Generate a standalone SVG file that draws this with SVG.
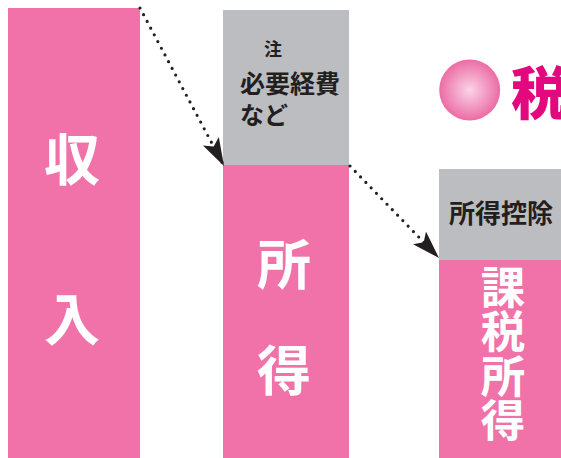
<svg xmlns="http://www.w3.org/2000/svg" width="561" height="458" viewBox="0 0 561 458">
<defs>
<style>
.pink{fill:#f072a9}
.gray{fill:#bcbdc0}
.wt{fill:#ffffff;font-family:"Noto Sans CJK JP","Noto Sans",sans-serif;font-weight:bold;text-anchor:middle;dominant-baseline:central}
.dk{fill:#231f20;font-family:"Noto Sans CJK JP","Noto Sans",sans-serif;font-weight:bold}
.dot{fill:none;stroke:#231f20;stroke-width:3.2;stroke-linecap:round;stroke-dasharray:0 7.6}
</style>
<marker id="ah" markerUnits="userSpaceOnUse" markerWidth="30" markerHeight="20" refX="28" refY="9" orient="auto">
<path d="M0,0 L28,9 L0,18 L6,9 z" fill="#231f20"/>
</marker>
<radialGradient id="rg" cx="0.5" cy="0.5" r="0.5">
<stop offset="0" stop-color="#fad4e6"/>
<stop offset="1" stop-color="#ec6ca5"/>
</radialGradient>
</defs>
<g id="income">
<rect class="pink" x="8" y="8" width="132" height="450"/>
<text class="wt" x="72" y="155" font-size="56">収</text>
<text class="wt" x="72" y="315" font-size="56">入</text>
</g>
<g id="shotoku">
<rect class="gray" x="223" y="10" width="126" height="155"/>
<rect class="pink" x="223" y="165" width="126" height="293"/>
<text class="dk" x="273" y="48" font-size="18" text-anchor="middle" dominant-baseline="central">注</text>
<text class="dk" font-size="25" dominant-baseline="central"><tspan x="240" y="82">必要経費</tspan><tspan x="240" y="113" font-size="24">など</tspan></text>
<text class="wt" x="284" y="261" font-size="54">所</text>
<text class="wt" x="284" y="367" font-size="54">得</text>
</g>
<g id="kazei">
<rect class="gray" x="439" y="169" width="122" height="91"/>
<rect class="pink" x="439" y="260" width="122" height="198"/>
<text class="dk" x="501" y="211" font-size="26" text-anchor="middle" dominant-baseline="central">所得控除</text>
<text x="503" y="264.5" font-size="44.5" writing-mode="vertical-rl" fill="#ffffff" font-family="'Noto Sans CJK JP','Noto Sans',sans-serif" font-weight="bold">課税所得</text>
</g>
<g id="title">
<circle cx="469.7" cy="90" r="30.5" fill="url(#rg)"/>
<text x="511" y="89" font-size="57" fill="#e4087f" font-family="'Noto Sans CJK JP','Noto Sans',sans-serif" font-weight="900" dominant-baseline="central">税</text>
</g>
<g id="connectors">
<path class="dot" d="M140,8 L224,166" marker-end="url(#ah)"/>
<path class="dot" d="M350,166 L439,258" marker-end="url(#ah)"/>
</g>
</svg>
